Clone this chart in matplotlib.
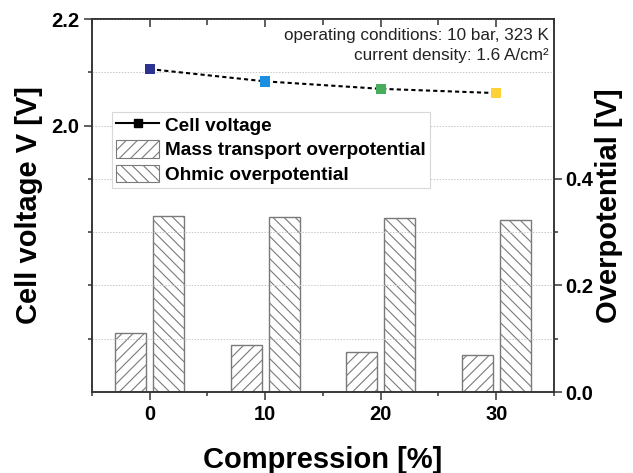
import numpy as np
import matplotlib
matplotlib.use('Agg')
import matplotlib.pyplot as plt
from matplotlib.lines import Line2D
from matplotlib.patches import Patch
from matplotlib.ticker import MultipleLocator, FixedLocator

plt.rcParams['font.family'] = ['Liberation Sans', 'DejaVu Sans']
plt.rcParams['hatch.linewidth'] = 0.8

# compression levels and measured values
compression = [0, 10, 20, 30]
cell_voltage = [2.106, 2.083, 2.069, 2.061]
mass_transport = [0.111, 0.089, 0.075, 0.069]
ohmic = [0.330, 0.328, 0.326, 0.323]
marker_colors = ['#2d3391', '#1b8fe0', '#47ad5b', '#fcd236']

x = np.array(compression, dtype=float)
spine_col = '#333333'

fig = plt.figure(figsize=(6.33, 4.73), dpi=100)
ax = fig.add_axes([0.1453, 0.1712, 0.7299, 0.7886])
ax2 = ax.twinx()

# overpotential bars on the right axis
bw = 2.7
ax2.bar(x - 1.65, mass_transport, width=bw, facecolor='none', edgecolor='#7a7a7a',
        hatch='///', linewidth=1.0)
ax2.bar(x + 1.65, ohmic, width=bw, facecolor='none', edgecolor='#7a7a7a',
        hatch='\\\\\\', linewidth=1.0)

# cell voltage on the left axis
ax.plot(x, cell_voltage, color='k', lw=1.5, ls=(0, (2, 1.5)), zorder=3)
ax.scatter(x, cell_voltage, marker='s', s=55, c=marker_colors, zorder=4, linewidths=0)

ax.set_xlim(-5, 35)
ax.set_ylim(1.5, 2.2)
ax2.set_ylim(0, 0.7)

ax.set_xticks(compression)
ax.xaxis.set_minor_locator(MultipleLocator(5))
ax.yaxis.set_major_locator(FixedLocator([2.0, 2.2]))
ax.yaxis.set_minor_locator(FixedLocator([1.6, 1.7, 1.8, 1.9, 2.1]))
ax.yaxis.set_major_formatter(matplotlib.ticker.FormatStrFormatter('%.1f'))
ax2.yaxis.set_major_locator(FixedLocator([0.0, 0.2, 0.4]))
ax2.yaxis.set_minor_locator(FixedLocator([0.1, 0.3]))
ax2.yaxis.set_major_formatter(matplotlib.ticker.FormatStrFormatter('%.1f'))

ax.grid(True, which='both', axis='y', color='#c8c8c8', ls=(0, (1.5, 1.5)), lw=0.7)
ax.set_axisbelow(True)

ax.tick_params(axis='both', which='major', direction='out', length=6, width=1.1,
               color=spine_col, labelsize=14.5, pad=3)
ax.tick_params(axis='both', which='minor', direction='out', length=3, width=1.1,
               color=spine_col)
ax2.tick_params(axis='y', which='major', direction='out', length=6, width=1.1,
                color=spine_col, labelsize=14.5, pad=2)
ax2.tick_params(axis='y', which='minor', direction='out', length=3, width=1.1,
                color=spine_col)
for lab in ax.get_xticklabels() + ax.get_yticklabels() + ax2.get_yticklabels():
    lab.set_fontweight('bold')

# inward ticks along the top edge
top = ax.secondary_xaxis('top')
top.set_xticks(compression)
top.xaxis.set_minor_locator(MultipleLocator(5))
top.tick_params(which='both', direction='in', labeltop=False, color=spine_col, width=1.1)
top.tick_params(which='major', length=6)
top.tick_params(which='minor', length=4)
top.spines['top'].set_color(spine_col)
top.spines['top'].set_linewidth(1.1)

for a in (ax, ax2):
    for s in a.spines.values():
        s.set_color(spine_col)
        s.set_linewidth(1.1)

ax.set_xlabel('Compression [%]', fontsize=21, fontweight='bold', labelpad=16)
ax.set_ylabel('Cell voltage V [V]', fontsize=21, fontweight='bold', labelpad=6)
ax2.set_ylabel('Overpotential [V]', fontsize=21, fontweight='bold', labelpad=1)

ax.text(0.988, 0.975, 'operating conditions: 10 bar, 323 K\ncurrent density: 1.6 A/cm²',
        transform=ax.transAxes, ha='right', va='top', fontsize=12.3,
        linespacing=1.4, color='#222222')

handles = [
    Line2D([], [], color='k', lw=1.5, marker='s', ms=6),
    Patch(facecolor='white', edgecolor='#7a7a7a', hatch='///', lw=0.8),
    Patch(facecolor='white', edgecolor='#7a7a7a', hatch='\\\\\\', lw=0.8),
]
labels = ['Cell voltage', 'Mass transport overpotential', 'Ohmic overpotential']
leg = ax.legend(handles, labels, loc='upper left', bbox_to_anchor=(0.043, 0.752),
                borderaxespad=0, fancybox=False, framealpha=1, edgecolor='#d8d8d8',
                prop={'weight': 'bold', 'size': 13.7}, handlelength=2.3,
                handleheight=1.05, handletextpad=0.3, labelspacing=0.28,
                borderpad=0.2)
leg.get_frame().set_linewidth(0.8)
ax.set_zorder(ax2.get_zorder() + 1)
ax.patch.set_visible(False)

fig.savefig('out.png', dpi=100)
